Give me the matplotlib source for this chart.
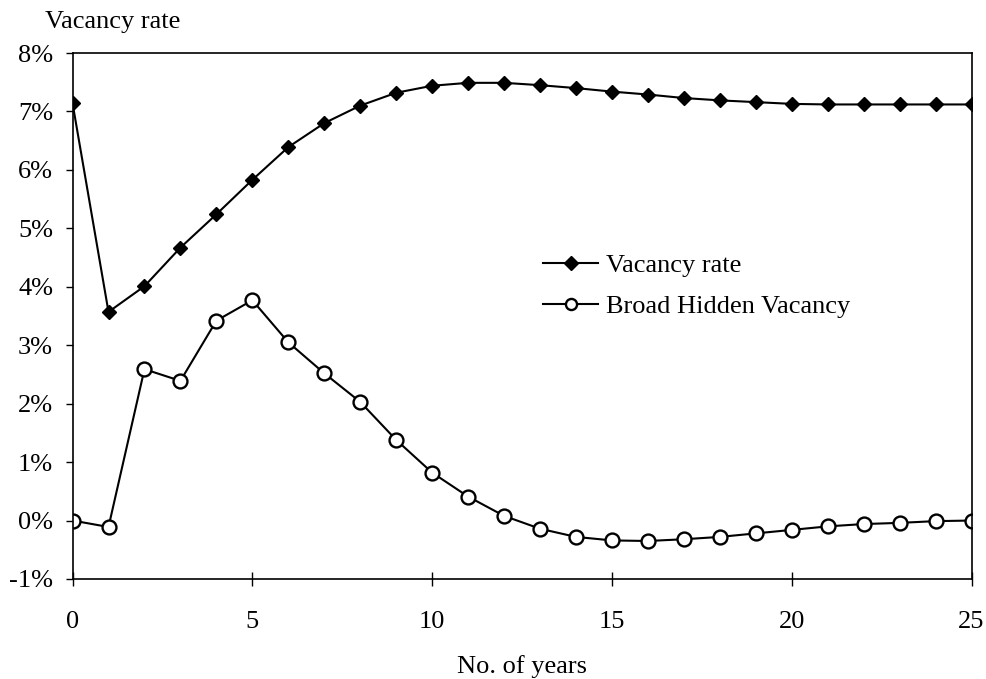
import numpy as np
import matplotlib
matplotlib.use('Agg')
import matplotlib.pyplot as plt
from matplotlib.lines import Line2D
from matplotlib.ticker import FuncFormatter

# Data (percent)
years = list(range(26))
vacancy_rate = [7.14, 3.57, 4.01, 4.67, 5.24, 5.83, 6.39, 6.80, 7.10, 7.32,
                7.44, 7.49, 7.49, 7.45, 7.40, 7.34, 7.29, 7.23, 7.19, 7.16,
                7.13, 7.12, 7.12, 7.12, 7.12, 7.12]
hidden_vacancy = [0.00, -0.11, 2.59, 2.39, 3.42, 3.77, 3.05, 2.52, 2.03, 1.38,
                  0.82, 0.41, 0.08, -0.14, -0.28, -0.34, -0.35, -0.32, -0.28, -0.22,
                  -0.16, -0.10, -0.06, -0.04, -0.01, 0.00]
series_names = ['Vacancy rate', 'Broad Hidden Vacancy']
x_ticks = [0, 5, 10, 15, 20, 25]
y_ticks = list(range(-1, 9))

plt.rcParams['font.family'] = ['Liberation Serif', 'DejaVu Serif']
plt.rcParams['font.size'] = 19

fig = plt.figure(figsize=(9.87, 6.79), dpi=100)
ax = fig.add_axes([0.0735, 0.1473, 0.9108, 0.7746])

ax.plot(years, vacancy_rate, '-k', lw=1.5, marker='D', ms=7.5, mfc='k', mec='k')
ax.plot(years, hidden_vacancy, '-k', lw=1.5, marker='o', ms=10, mfc='white', mec='k',
        mew=1.7)

ax.set_xlim(0, 25)
ax.set_ylim(-1, 8)
ax.set_xticks(x_ticks)
ax.set_yticks(y_ticks)
ax.yaxis.set_major_formatter(FuncFormatter(lambda v, p: '%d%%' % v))

for s in ax.spines.values():
    s.set_linewidth(1.2)
ax.tick_params(axis='y', direction='out', length=5, width=1, pad=9)
ax.tick_params(axis='x', direction='inout', length=10, width=1, pad=18)

ax.set_xlabel('No. of years', labelpad=16)
fig.text(45 / 987, 1 - 11 / 679, 'Vacancy rate', ha='left', va='top')

# legend handles: diamond keeps full size, circle drawn smaller as in the original
handles = [Line2D([], [], color='k', lw=1.5, marker='D', ms=7.5, mfc='k', mec='k'),
           Line2D([], [], color='k', lw=1.5, marker='o', ms=8, mfc='white', mec='k', mew=1.7)]
leg = ax.legend(handles, series_names, loc='upper left',
                bbox_to_anchor=(543 / 987, 1 - 254 / 679),
                bbox_transform=fig.transFigure, frameon=False, handlelength=2.1,
                handletextpad=0.3, labelspacing=0.65,
                borderaxespad=0, borderpad=0)

fig.savefig('out.png', dpi=100)
